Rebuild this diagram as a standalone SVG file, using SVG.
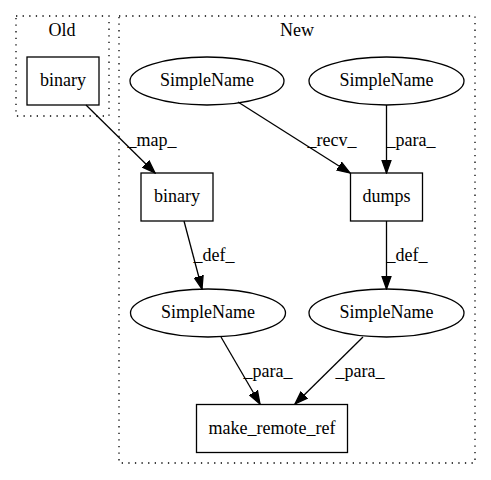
<svg xmlns="http://www.w3.org/2000/svg" width="491" height="480" viewBox="0 0 491 480">
<style>
text{font-family:"Liberation Serif","Times New Roman",serif;font-size:18px;font-weight:normal;fill:#000;text-anchor:middle}
.cl{fill:none;stroke:#000;stroke-width:1.3;stroke-dasharray:1.3,5.3}
.n{fill:none;stroke:#000;stroke-width:1.3}
.e{fill:none;stroke:#000;stroke-width:1.3;marker-end:url(#ah)}
</style>
<defs>
<marker id="ah" markerUnits="userSpaceOnUse" markerWidth="14" markerHeight="11" viewBox="0 -5.5 14 11" refX="13" refY="0" orient="auto">
<path d="M0,-4.6 L13,0 L0,4.6 z" fill="#000" stroke="#000" stroke-width="1.3"/>
</marker>
</defs>
<rect width="491" height="480" fill="#fff"/>
<g id="cluster_old">
<rect class="cl" x="16" y="16" width="93" height="100"/>
<text x="62" y="36">Old</text>
</g>
<g id="cluster_new">
<rect class="cl" x="119" y="16" width="356" height="447"/>
<text x="297" y="36">New</text>
</g>
<g id="old_binary">
<rect class="n" x="27" y="57" width="72" height="48"/>
<text x="63" y="86">binary</text>
</g>
<g id="new_binary">
<rect class="n" x="141" y="173" width="72" height="48"/>
<text x="177" y="202">binary</text>
</g>
<g id="sn_top_left">
<ellipse class="n" cx="207" cy="81" rx="77" ry="24"/>
<text x="207" y="86">SimpleName</text>
</g>
<g id="sn_top_right">
<ellipse class="n" cx="386.5" cy="81" rx="77.5" ry="24"/>
<text x="386.5" y="86">SimpleName</text>
</g>
<g id="dumps">
<rect class="n" x="350.5" y="173" width="72" height="48"/>
<text x="386.5" y="202">dumps</text>
</g>
<g id="sn_bottom_left">
<ellipse class="n" cx="208" cy="313" rx="77.5" ry="24"/>
<text x="208" y="318">SimpleName</text>
</g>
<g id="sn_bottom_right">
<ellipse class="n" cx="386.5" cy="313" rx="77.5" ry="24"/>
<text x="386.5" y="318">SimpleName</text>
</g>
<g id="make_remote_ref">
<rect class="n" x="196.5" y="404.5" width="151" height="48"/>
<text x="272" y="434">make_remote_ref</text>
</g>
<g id="connectors">
<line class="e" x1="86" y1="105" x2="155" y2="173"/>
<text x="152" y="146">_map_</text>
<line class="e" x1="238" y1="102" x2="350" y2="173"/>
<text x="332" y="146">_recv_</text>
<line class="e" x1="386.5" y1="105" x2="386.5" y2="173"/>
<text x="411" y="146">_para_</text>
<line class="e" x1="184" y1="221" x2="202" y2="289"/>
<text x="214" y="261">_def_</text>
<line class="e" x1="386.5" y1="221" x2="386.5" y2="289"/>
<text x="407" y="261">_def_</text>
<line class="e" x1="221" y1="337" x2="260" y2="404"/>
<text x="268" y="377">_para_</text>
<line class="e" x1="363" y1="337" x2="295" y2="404"/>
<text x="360" y="377">_para_</text>
</g>
</svg>
